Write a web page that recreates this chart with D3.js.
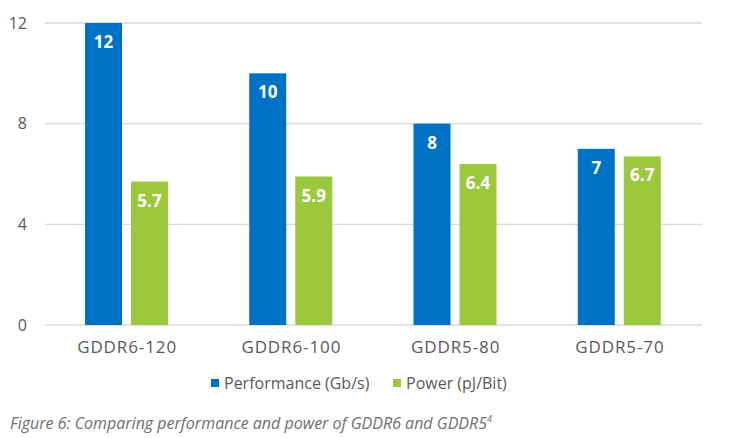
<!DOCTYPE html>
<html>
<head>
<meta charset="utf-8">
<script src="https://cdn.jsdelivr.net/npm/d3@7"></script>
<style>
  body { margin: 0; background: #fff; }
  svg { display: block; font-family: "Open Sans", "Noto Sans", sans-serif; }
  .tick-label { fill: #595959; font-size: 16px; }
  .cat-label { fill: #595959; font-size: 17px; letter-spacing: 0.9px; }
  .value-label { fill: #fff; font-size: 17px; font-weight: 700; }
  .legend-label { fill: #595959; font-size: 16px; }
  .caption { fill: #6f6f6f; font-size: 16px; font-style: italic; }
</style>
</head>
<body>
<svg id="chart" width="740" height="438"></svg>
<script>
const categories = ["GDDR6-120", "GDDR6-100", "GDDR5-80", "GDDR5-70"];
const performance = [12, 10, 8, 7];
const power = [5.7, 5.9, 6.4, 6.7];
const yTicks = [0, 4, 8, 12];
const seriesNames = ["Performance (Gb/s)", "Power (pJ/Bit)"];
const colors = ["#0072C6", "#9BC83C"];

const svg = d3.select("#chart");
const margin = { left: 45, right: 38, top: 23, bottom: 113 };
const width = 740 - margin.left - margin.right;
const height = 438 - margin.top - margin.bottom;

const x = d3.scaleBand().domain(categories).range([margin.left, margin.left + width]);
const x1 = d3.scaleBand().domain([0, 1]).range([40, 40 + 37 * 2 + 9]).paddingInner(9 / 46);
const y = d3.scaleLinear().domain([0, 12]).range([margin.top + height, margin.top]);

// gridlines
svg.append("g")
  .selectAll("line")
  .data(yTicks)
  .join("line")
  .attr("x1", margin.left)
  .attr("x2", margin.left + width)
  .attr("y1", (d) => y(d))
  .attr("y2", (d) => y(d))
  .attr("stroke", "#d9d9d9")
  .attr("stroke-width", 1.3);

svg.append("g")
  .selectAll("text")
  .data(yTicks)
  .join("text")
  .attr("class", "tick-label")
  .attr("x", 27)
  .attr("y", (d) => y(d))
  .attr("dy", "0.35em")
  .attr("text-anchor", "end")
  .text((d) => d);

// bars
const series = [performance, power];
series.forEach((vals, si) => {
  const g = svg.append("g");
  g.selectAll("rect")
    .data(vals)
    .join("rect")
    .attr("x", (d, i) => x(categories[i]) + x1(si))
    .attr("y", (d) => y(d))
    .attr("width", x1.bandwidth())
    .attr("height", (d) => y(0) - y(d))
    .attr("fill", colors[si]);
  g.selectAll("text")
    .data(vals)
    .join("text")
    .attr("class", "value-label")
    .attr("x", (d, i) => x(categories[i]) + x1(si) + x1.bandwidth() / 2)
    .attr("y", (d) => y(d) + 25)
    .attr("text-anchor", "middle")
    .text((d) => d);
});

// category labels
svg.append("g")
  .selectAll("text")
  .data(categories)
  .join("text")
  .attr("class", "cat-label")
  .attr("x", (d) => x(d) + x.bandwidth() / 2)
  .attr("y", y(0) + 28)
  .attr("text-anchor", "middle")
  .text((d) => d);

// legend
const legendX = [211, 393];
seriesNames.forEach((name, i) => {
  svg.append("g")
    .attr("transform", `translate(${legendX[i]},383)`)
    .call((g) =>
      g.append("rect")
        .attr("y", -4)
        .attr("width", 8)
        .attr("height", 8)
        .attr("fill", colors[i])
    )
    .call((g) =>
      g.append("text")
        .attr("class", "legend-label")
        .attr("x", 13)
        .attr("dy", "0.35em")
        .text(name)
    );
});

// caption
svg.append("text")
  .attr("class", "caption")
  .attr("x", 10)
  .attr("y", 429)
  .call((t) => t.append("tspan").text("Figure 6: Comparing performance and power of GDDR6 and GDDR5"))
  .call((t) => t.append("tspan").attr("font-size", 9).attr("dy", -7).text("4"));
</script>
</body>
</html>
